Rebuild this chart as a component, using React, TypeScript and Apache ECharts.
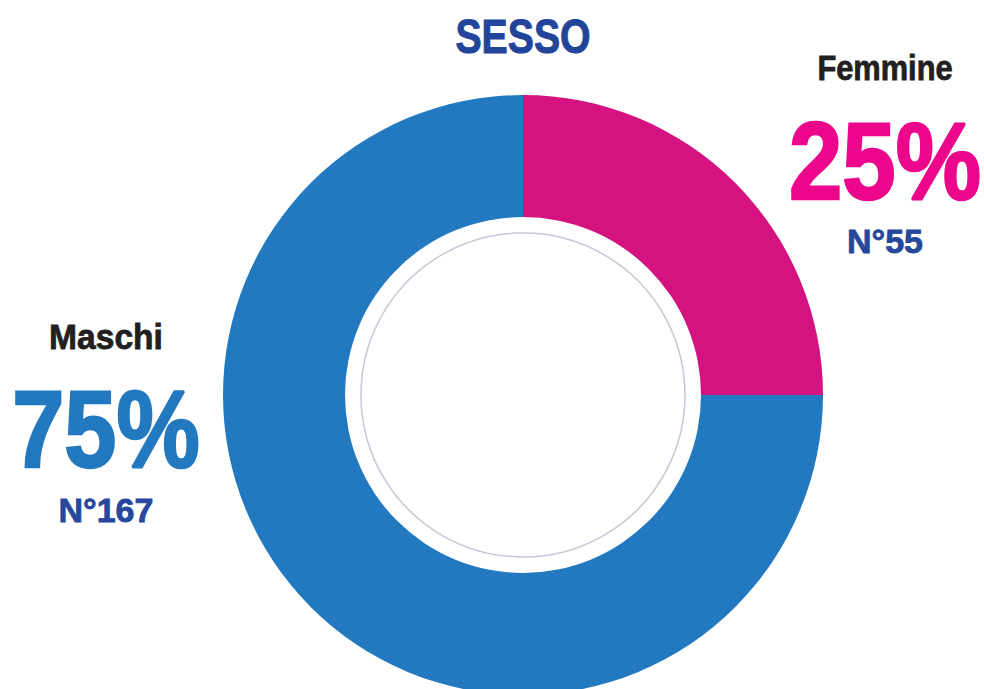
import React, { useEffect, useRef } from "react";
import * as echarts from "echarts";

const title = "SESSO";
const categories = ["Femmine", "Maschi"];
const percentages = [25, 75];
const counts = [55, 167];
const sliceColors = ["#d41380", "#2279c0"];
const percentColors = ["#ec068c", "#2379bf"];

const FONT = "'Liberation Sans', Arial, sans-serif";

export default function App() {
  const ref = useRef<HTMLDivElement>(null);
  useEffect(() => {
    if (!ref.current) return;
    const chart = echarts.init(ref.current, undefined, { renderer: "svg" });
    const cx = 523;
    const cy = 395;
    const labelPos = [
      { x: 885, name: 67.5, pct: 161, n: 240.5, nameScale: 0.88, pctScale: 0.88 },
      { x: 106, name: 336.5, pct: 429, n: 509.5, nameScale: 0.96, pctScale: 0.86 },
    ];
    const graphics: any[] = [
      {
        type: "text",
        x: cx,
        y: 35.5,
        scaleX: 0.8,
        style: {
          x: 0,
          y: 0,
          text: title,
          textAlign: "center",
          textVerticalAlign: "middle",
          fontFamily: FONT,
          fontWeight: "bold",
          fontSize: 49,
          fill: "#22449a",
          stroke: "#22449a",
          lineWidth: 1,
        },
      },
      {
        type: "circle",
        shape: { cx, cy, r: 162 },
        style: { fill: "none", stroke: "#c8c5d8", lineWidth: 1.5 },
        z: 10,
      },
    ];
    categories.forEach((c, i) => {
      const p = labelPos[i];
      graphics.push(
        {
          type: "text",
          x: p.x,
          y: p.name,
          scaleX: p.nameScale,
          style: {
            x: 0,
            y: 0,
            text: c,
            textAlign: "center",
            textVerticalAlign: "middle",
            fontFamily: FONT,
            fontWeight: "bold",
            fontSize: 35,
            fill: "#231f20",
            stroke: "#231f20",
            lineWidth: 0.8,
          },
        },
        {
          type: "text",
          x: p.x,
          y: p.pct,
          scaleX: p.pctScale,
          style: {
            x: 0,
            y: 0,
            text: percentages[i] + "%",
            textAlign: "center",
            textVerticalAlign: "middle",
            fontFamily: FONT,
            fontWeight: "bold",
            fontSize: 109,
            fill: percentColors[i],
            stroke: percentColors[i],
            lineWidth: 2.5,
          },
        },
        {
          type: "text",
          x: p.x,
          y: p.n,
          style: {
            x: 0,
            y: 0,
            text: "N°" + counts[i],
            textAlign: "center",
            textVerticalAlign: "middle",
            fontFamily: FONT,
            fontWeight: "bold",
            fontSize: 34,
            fill: "#27479b",
            stroke: "#27479b",
            lineWidth: 0.8,
          },
        }
      );
    });
    chart.setOption({
      animation: false,
      backgroundColor: "#ffffff",
      series: [
        {
          type: "pie",
          center: [cx, cy],
          radius: [178, 300],
          startAngle: 90,
          clockwise: true,
          label: { show: false },
          labelLine: { show: false },
          emphasis: { disabled: true },
          itemStyle: { borderWidth: 0 },
          data: categories.map((c, i) => ({
            name: c,
            value: percentages[i],
            itemStyle: { color: sliceColors[i] },
          })),
        },
      ],
      graphic: graphics,
    });
    return () => chart.dispose();
  }, []);
  return (
    <div
      ref={ref}
      style={{ position: "absolute", left: 0, top: 0, width: 984, height: 689 }}
    />
  );
}
